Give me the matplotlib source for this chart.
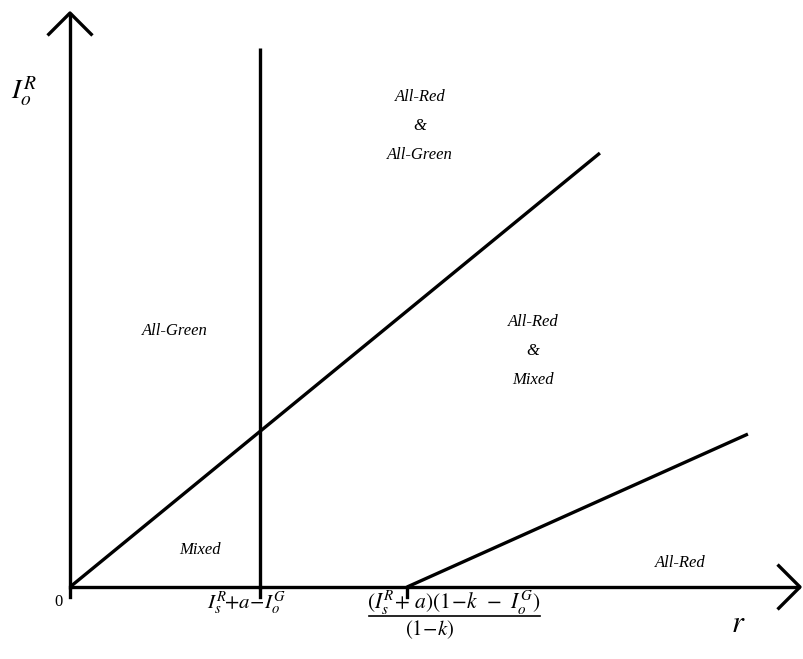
import matplotlib
matplotlib.use("Agg")
import matplotlib.pyplot as plt

plt.rcParams['mathtext.fontset'] = 'stix'
plt.rcParams['font.family'] = ['Liberation Serif', 'DejaVu Serif']

# --- data (in chart units, 1 unit = first threshold) ---
r1 = 1.0                       # I_s^R + a - I_o^G
r2 = 1.774                     # (I_s^R+a)(1-k-I_o^G)/(1-k)
diag_x = [0.0, 2.789]          # All-Green / Mixed boundary
diag_y = [0.0, 2.284]
low_x = [r2, 3.568]            # All-Red boundary
low_y = [0.0, 0.805]
vert_top = 2.837
yaxis_top = 3.021
xaxis_end = 3.842

tick_pos = [0.0, r1, r2]
region_labels = ["All-Red\n&\nAll-Green", "All-Green", "All-Red\n&\nMixed", "Mixed", "All-Red"]
region_pos = [(1.842, 2.426), (0.553, 1.347), (2.437, 1.242), (0.684, 0.195), (3.210, 0.126)]

s = 190.0
fig = plt.figure(figsize=(8.04, 6.59), dpi=100)
ax = fig.add_axes([0, 0, 1, 1])
ax.set_xlim(-70 / s, 734 / s)
ax.set_ylim(-72 / s, 587 / s)
ax.axis('off')

lw = 2.4
kw = dict(color='black', lw=lw, solid_capstyle='butt')
# axes
ax.plot([0, 0], [-0.01, yaxis_top], **kw)
ax.plot([0, xaxis_end], [0, 0], **kw)
# arrowheads (open chevrons)
a = 0.112
ax.plot([-a, 0, a], [yaxis_top - a, yaxis_top, yaxis_top - a], color='black', lw=lw)
ax.plot([xaxis_end - a, xaxis_end, xaxis_end - a], [a, 0, -a], color='black', lw=lw)

# region boundaries
ax.plot([r1, r1], [-0.01, vert_top], **kw)
ax.plot(diag_x, diag_y, **kw)
ax.plot(low_x, low_y, **kw)

# tick marks below axis
for t in tick_pos:
    ax.plot([t, t], [0, -0.055], color='black', lw=lw)

for lab, (x, y) in zip(region_labels, region_pos):
    ax.text(x, y, lab, ha='center', va='center', style='italic', fontsize=12,
            linespacing=2.05)

ax.text(-0.037, -0.08, '0', ha='right', va='center', fontsize=12)
ax.text(0.932, -0.085, r'$I_s^R\!\!+\!a\!-\!I_o^G$', ha='center', va='center', fontsize=15)
# fraction label for second threshold
num_left = (367 - 70) / s
num = ax.text(num_left, -0.085, r'$(I_s^R\!+\,a)(1\!-\!k\;\,-\;\,I_o^G)$', ha='left', va='center',
              fontsize=15.5)
fig.canvas.draw()
bb = num.get_window_extent().transformed(ax.transData.inverted())
ax.plot([bb.x0 + 0.01, bb.x1], [-0.15, -0.15], color='black', lw=1.2)
ax.text((430 - 70) / s, -0.225, r'$(1\!-\!k)$', ha='center', va='center', fontsize=15)
ax.text(3.515, -0.195, r'$r$', ha='center', va='center', fontsize=22)
ax.text(-0.24, 2.605, r'$I_o^R$', ha='center', va='center', fontsize=20)

fig.savefig('out.png', dpi=100)
